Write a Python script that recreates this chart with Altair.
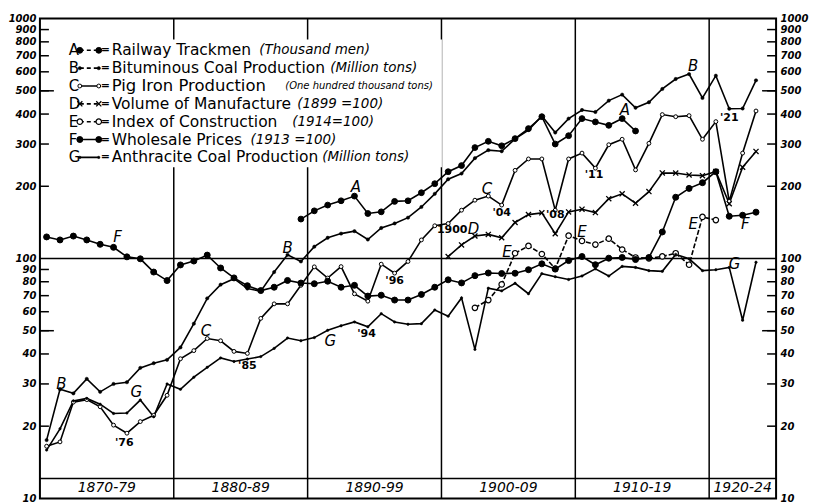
import altair as alt
import pandas as pd

# ---------------- data ----------------
years_long = list(range(1870, 1924))
bituminous_coal = [17.5, 28.5, 27.4, 31.5, 27.8, 30.0, 30.5, 35.0, 36.6, 37.8,
                   42.6, 53.5, 68.2, 77.8, 82.4, 74.9, 73.1, 87.8, 103.6, 97.2,
                   112, 122, 127, 130, 120, 134, 140, 148, 164, 186,
                   214, 226, 262, 283, 280, 315, 343, 393, 335, 383,
                   416, 408, 455, 482, 425, 448, 509, 560, 587, 467,
                   578, 421, 422, 553]
pig_iron = [16.5, 17.2, 25.2, 25.8, 24.1, 20.2, 18.7, 20.9, 22.2, 26.9,
            38.2, 41.3, 46.4, 45.4, 41.0, 40.2, 56.3, 64.7, 64.7, 77.3,
            92.3, 82.9, 92.5, 71.2, 66.4, 94.7, 86.9, 97.2, 119.5, 136.9,
            139.9, 159, 175, 182, 167, 233, 260, 260, 159, 260,
            275, 238, 298, 314, 234, 302, 398, 390, 394, 314,
            372, 173, 275, 412]
anthracite_coal = [15.9, 19.5, 25.5, 26.1, 24.7, 22.6, 22.7, 25.7, 21.9, 30.0,
                   28.5, 32.0, 35.2, 38.5, 37.2, 38.1, 39.0, 42.2, 46.6, 45.4,
                   46.8, 50.2, 52.4, 54.4, 51.9, 58.9, 54.4, 53.2, 53.5, 61.0,
                   57.5, 68.5, 41.8, 75.2, 73.3, 78.8, 71.3, 86.5, 84.0, 81.7,
                   84.5, 90.5, 84.5, 92.7, 91.8, 89.0, 88.4, 104, 99.7, 89.0,
                   89.8, 91.8, 55.3, 96.5]
wholesale_prices = [123, 119.5, 124, 119.5, 114.6, 111.3, 101.6, 99.7, 87.8, 80.9,
                    94, 97.6, 103.3, 91.3, 83, 77, 73.5, 75.9, 81, 79,
                    78.5, 80.4, 75.9, 77.3, 69.7, 70.3, 67.1, 67.1, 70.8, 75.9,
                    81.5, 79.1, 84.8, 87, 86.6, 86.8, 89.8, 95, 90.3, 98,
                    101.9, 94.2, 100.3, 101, 99, 101, 129, 180, 196, 207,
                    230, 150, 151.5, 156]
years_trackmen = list(range(1889, 1915))
railway_trackmen = [146, 158, 167, 174, 182, 154, 156.5, 173, 174, 188, 205,
                    230, 244, 290, 308, 295, 316, 348, 390, 300, 325,
                    383, 371, 359, 383, 340]
years_manufacture = list(range(1900, 1924))
volume_manufacture = [101.9, 113.9, 124.1, 126, 122, 141.3, 152.4, 155, 126.8, 156.4,
                      160.5, 155.4, 177.6, 186, 170, 190, 227.3, 227, 223, 221.5,
                      230.4, 169.3, 240, 279.4]
years_construction = list(range(1902, 1921))
construction_index = [62.3, 67.1, 78, 105.2, 112.8, 104.4, 90.8, 124.5, 118.4, 114.3,
                      121, 109, 101, 100, 102, 105.2, 94.2, 149, 144.6]

series_letters = ["A", "B", "C", "D", "E", "F", "G"]
series_names = ["Railway Trackmen", "Bituminous Coal Production", "Pig Iron Production",
                "Volume of Manufacture", "Index of Construction", "Wholesale Prices",
                "Anthracite Coal Production"]
series_units = ["(Thousand men)", "(Million tons)", "(One hundred thousand tons)",
                "(1899 =100)", "(1914=100)", "(1913 =100)", "(Million tons)"]

decade_bounds = [1870, 1880, 1890, 1900, 1910, 1920, 1925]
decade_labels = ["1870-79", "1880-89", "1890-99", "1900-09", "1910-19", "1920-24"]
tick_values = [10, 20, 30, 40, 50, 60, 70, 80, 90, 100,
               200, 300, 400, 500, 600, 700, 800, 900, 1000]
long_tick_values = [50, 500]

ann_labels = ["A", "A", "B", "B", "B", "C", "C", "D", "E", "E", "E", "F", "F", "G", "G", "G"]
ann_years = [1893.6, 1913.7, 1871.6, 1888.5, 1918.8, 1882.4, 1903.4, 1902.4, 1904.9,
             1910.5, 1918.8, 1875.8, 1922.7, 1877.2, 1891.7, 1921.9]
ann_values = [198, 417, 29.9, 111, 633, 49.9, 195, 133, 106, 129, 139, 123, 139, 27.7, 45.4, 94.5]
yr_labels = ["'76", "'85", "'94", "'96", "1900", "'04", "'08", "'11", "'21"]
yr_years = [1876.3, 1885.5, 1894.4, 1896.5, 1900.8, 1904.5, 1908.5, 1911.4, 1921.5]
yr_values = [17.0, 35.8, 48.5, 80.4, 131.8, 155, 152, 222, 386]

# ---------------- layout / style ----------------
W, H = 738, 481
REF_H = 484
FONT = "DejaVu Sans"
XPATH = "M-1,-1L1,1M-1,1L1,-1"

def ry(ref_px):
    return (ref_px - 15) * H / REF_H

def px2year(px):
    return 1870 + px * 55 / W

def px2val(py):
    return 10 ** (3 - 2 * py / H)

xscale = alt.Scale(domain=[1870, 1925], nice=False, zero=False)
yscale = alt.Scale(type="log", domain=[10, 1000], nice=False)

STYLE = {
    "A": dict(dash=False, shape="circle", size=34, fill="black", sw=1),
    "B": dict(dash=False, shape="circle", size=11, fill="black", sw=0.5),
    "C": dict(dash=False, shape="circle", size=15, fill="white", sw=1),
    "D": dict(dash=False, shape=XPATH, size=26, fill=None, sw=1.3),
    "E": dict(dash=True, shape="circle", size=30, fill="white", sw=1.2),
    "F": dict(dash=False, shape="circle", size=36, fill="black", sw=1),
    "G": dict(dash=False, shape="circle", size=6, fill="black", sw=0.5),
}
LEGEND_DASHED = ["A", "B", "D", "E"]

series_data = {
    "A": (years_trackmen, railway_trackmen),
    "B": (years_long, bituminous_coal),
    "C": (years_long, pig_iron),
    "D": (years_manufacture, volume_manufacture),
    "E": (years_construction, construction_index),
    "F": (years_long, wholesale_prices),
    "G": (years_long, anthracite_coal),
}

def point_kw(st):
    kw = dict(shape=st["shape"], size=st["size"], opacity=1, stroke="black", strokeWidth=st["sw"])
    if st["fill"] is None:
        kw["filled"] = False
    else:
        kw["filled"] = True
        kw["fill"] = st["fill"]
    return kw

one = pd.DataFrame({"a": [0]})
layers = []

# decade separators
dec_df = pd.DataFrame({"b": decade_bounds[1:-1]})
layers.append(alt.Chart(dec_df).mark_rule(color="black", strokeWidth=1.5).encode(
    x=alt.X("b:Q", scale=xscale, axis=None), y=alt.value(0), y2=alt.value(H)))

# 100 line
layers.append(alt.Chart(pd.DataFrame({"v": [100]})).mark_rule(color="black", strokeWidth=1.5).encode(
    y=alt.Y("v:Q", scale=yscale, axis=None)))

# band line
layers.append(alt.Chart(one).mark_rule(color="black", strokeWidth=1.5).encode(
    x=alt.value(0), x2=alt.value(W), y=alt.value(H - 20 * H / REF_H)))

# band labels
band_df = pd.DataFrame({"label": decade_labels,
                        "c": [(a + b) / 2 for a, b in zip(decade_bounds[:-1], decade_bounds[1:])]})
layers.append(alt.Chart(band_df).mark_text(font=FONT, fontSize=14, fontStyle="italic",
                                           baseline="middle", align="center", color="black").encode(
    x=alt.X("c:Q", scale=xscale, axis=None), y=alt.value(H - 10 * H / REF_H), text="label:N"))

# axis ticks + labels
axis_common = dict(values=tick_values, ticks=False, domain=False, grid=False, title=None, format="d",
                   labelFont=FONT, labelFontSize=10, labelFontStyle="italic", labelFontWeight="bold",
                   labelColor="black", labelOverlap=False, labelFlush=False, labelPadding=4)
tick_df = pd.DataFrame({"v": [t for t in tick_values if t not in (10, 100, 1000)]})
long_df = pd.DataFrame({"v": long_tick_values})
layers.append(alt.Chart(tick_df).mark_rule(color="black", strokeWidth=1.5).encode(
    y=alt.Y("v:Q", scale=yscale, axis=alt.Axis(orient="left", **axis_common)),
    x=alt.value(0), x2=alt.value(9)))
layers.append(alt.Chart(tick_df).mark_rule(color="black", strokeWidth=1.5).encode(
    y=alt.Y("v:Q", scale=yscale, axis=alt.Axis(orient="right", **axis_common)),
    x=alt.value(W - 9), x2=alt.value(W)))
layers.append(alt.Chart(long_df).mark_rule(color="black", strokeWidth=1.5).encode(
    y=alt.Y("v:Q", scale=yscale, axis=None), x=alt.value(0), x2=alt.value(14)))
layers.append(alt.Chart(long_df).mark_rule(color="black", strokeWidth=1.5).encode(
    y=alt.Y("v:Q", scale=yscale, axis=None), x=alt.value(W - 14), x2=alt.value(W)))

# data series: lines, then markers on top
for key in series_letters:
    yrs, vals = series_data[key]
    st = STYLE[key]
    df = pd.DataFrame({"year": yrs, "value": vals})
    base = alt.Chart(df).transform_calculate(xpos="datum.year + 0.5")
    line_kw = dict(color="black", strokeWidth=1.6)
    if st["dash"]:
        line_kw["strokeDash"] = [5, 2]
    layers.append(base.mark_line(**line_kw).encode(
        x=alt.X("xpos:Q", scale=xscale, axis=None), y=alt.Y("value:Q", scale=yscale, axis=None)))
for key in series_letters:
    yrs, vals = series_data[key]
    st = STYLE[key]
    df = pd.DataFrame({"year": yrs, "value": vals})
    base = alt.Chart(df).transform_calculate(xpos="datum.year + 0.5")
    layers.append(base.mark_point(**point_kw(st)).encode(
        x=alt.X("xpos:Q", scale=xscale, axis=None), y=alt.Y("value:Q", scale=yscale, axis=None)))

# annotations on the lines
ann_df = pd.DataFrame({"t": ann_labels, "x": ann_years, "y": ann_values})
layers.append(alt.Chart(ann_df).mark_text(font=FONT, fontSize=15, fontStyle="italic", color="black",
                                          align="center", baseline="middle").encode(
    x=alt.X("x:Q", scale=xscale, axis=None), y=alt.Y("y:Q", scale=yscale, axis=None), text="t:N"))
yr_df = pd.DataFrame({"t": yr_labels, "x": yr_years, "y": yr_values})
layers.append(alt.Chart(yr_df).mark_text(font=FONT, fontSize=11, fontWeight="bold", color="black",
                                         align="center", baseline="middle").encode(
    x=alt.X("x:Q", scale=xscale, axis=None), y=alt.Y("y:Q", scale=yscale, axis=None), text="t:N"))

# ---------------- legend (drawn inside the plot) ----------------
layers.append(alt.Chart(one).mark_rect(fill="white").encode(
    x=alt.value(23), x2=alt.value(403), y=alt.value(ry(36)), y2=alt.value(ry(165))))

row_ref = [47 + 18 * i for i in range(7)]
row_val = [px2val(ry(r)) for r in row_ref]
unit_ref_x = [257, 328, 283, 295, 290, 248, 320]
name_sizes = [15.5, 15.5, 16.5, 15.5, 15.5, 15.5, 15.5]
unit_sizes = [13.5, 13.5, 10, 13.5, 13.5, 13.5, 13.5]
SYM1, SYM2 = 40, 59
leg = pd.DataFrame({
    "letter": series_letters, "name": series_names, "unit": series_units,
    "val": row_val,
    "xl": px2year(29), "xs1": px2year(SYM1), "xs2": px2year(SYM2), "xeq": px2year(65.5),
    "xn": px2year(72), "xu": [px2year(u - 37) for u in unit_ref_x],
    "ns": name_sizes, "us": unit_sizes,
    "dash": ["dashed" if k in LEGEND_DASHED else "solid" for k in series_letters],
})
Y = alt.Y("val:Q", scale=yscale, axis=None)
txt = dict(font=FONT, color="black", baseline="middle", align="left")
layers.append(alt.Chart(leg).mark_text(fontSize=15, **txt).encode(
    x=alt.X("xl:Q", scale=xscale, axis=None), y=Y, text="letter:N"))
layers.append(alt.Chart(leg).mark_rule(color="black", strokeWidth=1.6).encode(
    x=alt.X("xs1:Q", scale=xscale, axis=None), x2="xs2:Q", y=Y,
    strokeDash=alt.StrokeDash("dash:N", scale=alt.Scale(domain=["dashed", "solid"], range=[[4, 3], [1, 0]]),
                              legend=None)))
for i, key in enumerate(series_letters):
    st = STYLE[key]
    pdf = pd.DataFrame({"x": [px2year(SYM1), px2year(SYM2)], "val": [row_val[i]] * 2})
    layers.append(alt.Chart(pdf).mark_point(**point_kw(st)).encode(
        x=alt.X("x:Q", scale=xscale, axis=None), y=Y))
layers.append(alt.Chart(leg).mark_text(font=FONT, color="black", baseline="middle", align="center",
                                       fontSize=11, fontWeight="bold", text="=").encode(
    x=alt.X("xeq:Q", scale=xscale, axis=None), y=Y))
layers.append(alt.Chart(leg).mark_text(**txt).encode(
    x=alt.X("xn:Q", scale=xscale, axis=None), y=Y, text="name:N",
    size=alt.Size("ns:Q", scale=None, legend=None)))
layers.append(alt.Chart(leg).mark_text(fontStyle="italic", **txt).encode(
    x=alt.X("xu:Q", scale=xscale, axis=None), y=Y, text="unit:N",
    size=alt.Size("us:Q", scale=None, legend=None)))

chart = alt.layer(*layers).resolve_axis(y="independent").properties(
    width=W, height=H,
    autosize=alt.AutoSizeParams(type="none"),
    padding={"left": 32, "top": 10, "right": 33, "bottom": 6},
    background="white",
).configure_view(stroke="black", strokeWidth=2)

chart.save("out.html", embed_options={"renderer": "svg", "actions": False})
